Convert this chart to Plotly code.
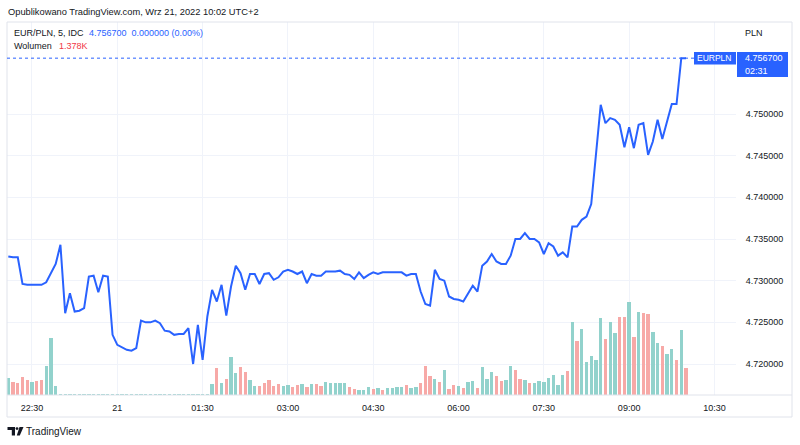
import pandas as pd
import plotly.graph_objects as go

# ---------------- data ----------------
START = "2022-09-20 22:05"          # first 5-minute bar
close = [
    4.7329, 4.7328, 4.7328, 4.7296, 4.7295, 4.7295, 4.7295, 4.7295, 4.7298, 4.7309,
    4.7320, 4.7343, 4.7261, 4.7285, 4.7263, 4.7264, 4.7267, 4.7305, 4.7306, 4.7286,
    4.7306, 4.7305, 4.7235, 4.7223, 4.7220, 4.7217, 4.7216, 4.7219, 4.7252, 4.7250,
    4.7250, 4.7252, 4.7249, 4.7240, 4.7239, 4.7235, 4.7236, 4.7236, 4.7243, 4.7200,
    4.7247, 4.7205, 4.7257, 4.7289, 4.7275, 4.7295, 4.7258, 4.7293, 4.7318, 4.7309,
    4.7289, 4.7308, 4.7308, 4.7296, 4.7308, 4.7309, 4.7301, 4.7304, 4.7311, 4.7313,
    4.7311, 4.7308, 4.7311, 4.7297, 4.7308, 4.7306, 4.7306, 4.7311, 4.7311, 4.7311,
    4.7312, 4.7308, 4.7307, 4.7302, 4.7310, 4.7303, 4.7307, 4.7310, 4.7308, 4.7310,
    4.7310, 4.7310, 4.7310, 4.7310, 4.7306, 4.7308, 4.7308, 4.7287, 4.7272, 4.7270,
    4.7313, 4.7302, 4.7300, 4.7281, 4.7278, 4.7277, 4.7275, 4.7284, 4.7294, 4.7287,
    4.7318, 4.7323, 4.7332, 4.7323, 4.7320, 4.7320, 4.7330, 4.7350, 4.7350, 4.7357,
    4.7350, 4.7350, 4.7346, 4.7332, 4.7345, 4.7341, 4.7330, 4.7334, 4.7328, 4.7365,
    4.7365, 4.7373, 4.7377, 4.7392, 4.7450, 4.7511, 4.7489, 4.7495, 4.7493, 4.7487,
    4.7460, 4.7484, 4.7459, 4.7487, 4.7489, 4.7451, 4.7467, 4.7493, 4.7470, 4.7492,
    4.7512, 4.7512, 4.7567, 4.7567,
]
volume = [
    843, 672, 591, 894, 758, 672, 707, 758, 1465, 2863,
    455, 40, 40, 40, 40, 40, 40, 40, 40, 40,
    40, 40, 40, 40, 40, 40, 40, 40, 40, 40,
    40, 40, 40, 40, 40, 40, 40, 40, 40, 40,
    40, 40, 40, 556, 1379, 591, 793, 1934, 1096, 1429,
    1146, 758, 470, 470, 591, 758, 470, 556, 470, 505,
    419, 505, 556, 419, 556, 556, 470, 641, 621, 621,
    621, 591, 404, 303, 253, 253, 404, 303, 354, 253,
    354, 354, 404, 419, 505, 369, 389, 591, 1465, 960,
    823, 672, 1263, 303, 505, 455, 369, 657, 722, 369,
    1429, 823, 1162, 960, 722, 758, 1465, 1263, 823, 758,
    621, 621, 707, 672, 874, 995, 505, 995, 1227, 3687,
    2712, 3318, 1667, 1970, 1768, 3889, 2813, 3671, 3146, 3939,
    3939, 4697, 2944, 4192, 4126, 4106, 3182, 2641, 2475, 2071,
    2338, 1768, 3298, 1378,
]
# volume bar direction per bar: u = up (teal), d = down (red)
direction = (
    "u d d d d u d d u u u".split()                                   # 0-10
    + ["u"] * 32                                                      # 11-42
    + "u d u d u u d d u u d d d d d u u d d u d u d d u u u u u".split()  # 43-71
    + "d d u u u d u d u u u".split()                                 # 72-82
    + ("u d u u d d d u d u  d d u d u u d u u u  d d u u d d u d u u  "
       "u u u u u d u d u u  u u u d u u d d u d  u d d u u d u u d u  d").split()  # 83-143
)

price_ticks = [4.720, 4.725, 4.730, 4.735, 4.740, 4.745, 4.750]
price_tick_labels = ["4.720000", "4.725000", "4.730000", "4.735000", "4.740000", "4.745000", "4.750000"]
time_ticks = ["2022-09-20 22:30", "2022-09-21 00:00", "2022-09-21 01:30", "2022-09-21 03:00",
              "2022-09-21 04:30", "2022-09-21 06:00", "2022-09-21 07:30", "2022-09-21 09:00",
              "2022-09-21 10:30"]
time_tick_labels = ["22:30", "21", "01:30", "03:00", "04:30", "06:00", "07:30", "09:00", "10:30"]
last_price = 4.7567
# ---------------------------------------

n = len(close)
times = pd.date_range(START, periods=n, freq="5min")

dirs = (direction + ["u"] * n)[:n]
UP, DOWN = "#92d2cc", "#f7a9a7"
bar_colors = [UP if d == "u" else DOWN for d in dirs]

W, H = 800, 445
L, R, T, B = 7, 736, 22, 395  # plot area in pixels


def px(x):
    return (x - L) / (R - L)


def py(y):
    return (B - y) / (B - T)


FONT = "Liberation Sans"
TXT = "#131722"
BLUE = "#2962ff"
FS = 9

fig = go.Figure()
fig.add_trace(go.Bar(x=times, y=volume, marker=dict(color=bar_colors, line=dict(width=0)),
                     width=5 * 60 * 1000 * 0.7, yaxis="y", hoverinfo="skip"))
fig.add_trace(go.Scatter(x=times, y=close, mode="lines", line=dict(color=BLUE, width=2),
                         yaxis="y2", hoverinfo="skip"))

vmax_px = (B - T) * 1378 / 27.3

fig.update_layout(
    width=W, height=H,
    margin=dict(l=L, r=W - R, t=T, b=H - B),
    paper_bgcolor="white", plot_bgcolor="white",
    showlegend=False,
    font=dict(family=FONT, size=FS, color=TXT),
    bargap=0,
    xaxis=dict(type="date", range=["2022-09-20 22:03:38", "2022-09-21 10:52:44"],
               tickvals=time_ticks, ticktext=time_tick_labels, showgrid=True,
               gridcolor="#f0f3fa", gridwidth=1, zeroline=False, showline=False,
               ticks="outside", ticklen=4, tickcolor="rgba(0,0,0,0)",
               tickfont=dict(family=FONT, size=FS, color=TXT)),
    yaxis=dict(range=[0, vmax_px], visible=False, fixedrange=True),
    yaxis2=dict(overlaying="y", side="right", range=[4.71628, 4.76104],
                tickvals=price_ticks, ticktext=price_tick_labels, showgrid=True,
                gridcolor="#f0f3fa", zeroline=False, showline=False,
                ticks="outside", ticklen=7, tickcolor="rgba(0,0,0,0)",
                tickfont=dict(family=FONT, size=FS, color=TXT)),
)

shapes = []
line_col = "#e0e3eb"
# frame lines
for (x0, y0, x1, y1) in [(7, 22, 792, 22), (7, 22, 7, 417), (792, 22, 792, 417),
                         (7, 395, 792, 395), (7, 417, 792, 417)]:
    shapes.append(dict(type="line", xref="paper", yref="paper", x0=px(x0), x1=px(x1),
                       y0=py(y0), y1=py(y1), line=dict(color=line_col, width=1)))
# last price dotted line
shapes.append(dict(type="line", xref="paper", yref="y2", x0=0, x1=px(694), y0=last_price, y1=last_price,
                   line=dict(color=BLUE, width=1, dash="dot")))
# EURPLN label box and price box
shapes.append(dict(type="rect", xref="paper", yref="paper", x0=px(694), x1=px(736), y0=py(52), y1=py(64.5),
                   fillcolor=BLUE, line=dict(width=0)))
shapes.append(dict(type="rect", xref="paper", yref="paper", x0=px(737), x1=px(788), y0=py(52), y1=py(77),
                   fillcolor=BLUE, line=dict(width=0)))
# TradingView logo (simplified)
shapes.append(dict(type="rect", xref="paper", yref="paper", x0=px(7.5), x1=px(15), y0=py(427), y1=py(430),
                   fillcolor=TXT, line=dict(width=0)))
shapes.append(dict(type="rect", xref="paper", yref="paper", x0=px(11.8), x1=px(15), y0=py(427), y1=py(435.5),
                   fillcolor=TXT, line=dict(width=0)))
shapes.append(dict(type="circle", xref="paper", yref="paper", x0=px(15.6), x1=px(18.4), y0=py(427.2), y1=py(430),
                   fillcolor=TXT, line=dict(width=0)))
shapes.append(dict(type="path", xref="paper", yref="paper",
                   path=f"M {px(19.5)},{py(427)} L {px(23.5)},{py(427)} L {px(19.8)},{py(435.5)} L {px(16.8)},{py(435.5)} Z",
                   fillcolor=TXT, line=dict(width=0)))
fig.update_layout(shapes=shapes)


def ann(x, y, text, color=TXT, size=FS, xanchor="left", family=FONT):
    return dict(x=px(x), y=py(y), xref="paper", yref="paper", text=text, showarrow=False,
                xanchor=xanchor, yanchor="middle", xshift=-1, font=dict(family=family, size=size, color=color))


anns = [
    ann(7, 12, "Opublikowano TradingView.com, Wrz 21, 2022 10:02 UTC+2", size=9.3),
    ann(13, 33, "EUR/PLN, 5, IDC"),
    ann(88, 33, "4.756700&nbsp;&nbsp;0.000000 (0.00%)", color=BLUE),
    ann(13, 46, "Wolumen"),
    ann(58, 46, "1.378K", color="#f23645"),
    ann(744, 33, "PLN"),
    ann(715, 58.5, "EURPLN", color="white", xanchor="center", size=8.5),
    ann(744, 58.5, "4.756700", color="white"),
    ann(744, 70.5, "02:31", color="white"),
    ann(25, 431.5, "TradingView", size=10),
]
fig.update_layout(annotations=anns)

fig.write_html("out.html", config={"displayModeBar": False},
               post_script="document.body.style.margin='0';")
